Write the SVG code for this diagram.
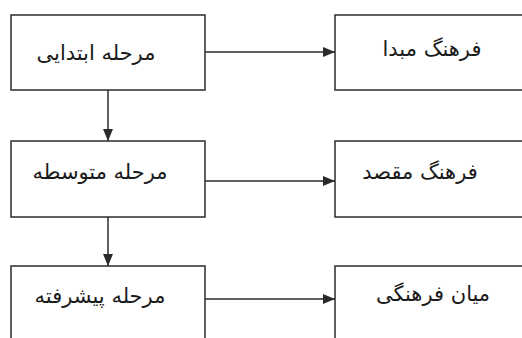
<svg xmlns="http://www.w3.org/2000/svg" width="522" height="338" viewBox="0 0 522 338">
<style>
.box{fill:#fff;stroke:#2b2b2b;stroke-width:1.5}
.lbl{font-family:"DejaVu Sans","Noto Sans",sans-serif;font-size:21px;fill:#1a1a1a;text-anchor:middle;direction:rtl}
.conn{stroke:#2b2b2b;stroke-width:1.5;fill:none}
</style>
<defs>
<marker id="ah" viewBox="0 0 12 10" refX="12" refY="5" markerWidth="12" markerHeight="10" markerUnits="userSpaceOnUse" orient="auto">
<path d="M0,0 L12,5 L0,10 Z" fill="#2b2b2b"/>
</marker>
</defs>
<rect width="522" height="338" fill="#fff"/>
<g id="n1"><rect class="box" x="11" y="15" width="194" height="75"/><text class="lbl" x="96" y="60">مرحله ابتدایی</text></g>
<g id="n2"><rect class="box" x="11" y="141" width="194" height="76"/><text class="lbl" x="100" y="179">مرحله متوسطه</text></g>
<g id="n3"><rect class="box" x="11" y="266" width="194" height="80"/><text class="lbl" x="100" y="303">مرحله پیشرفته</text></g>
<g id="n4"><rect class="box" x="335" y="15" width="200" height="75"/><text class="lbl" x="432" y="56">فرهنگ مبدا</text></g>
<g id="n5"><rect class="box" x="335" y="141" width="200" height="76"/><text class="lbl" x="420" y="179">فرهنگ مقصد</text></g>
<g id="n6"><rect class="box" x="335" y="266" width="200" height="80"/><text class="lbl" x="433" y="301">میان فرهنگی</text></g>
<g id="connectors">
<line class="conn" x1="205" y1="52" x2="335" y2="52" marker-end="url(#ah)"/>
<line class="conn" x1="205" y1="181" x2="335" y2="181" marker-end="url(#ah)"/>
<line class="conn" x1="205" y1="299" x2="335" y2="299" marker-end="url(#ah)"/>
<line class="conn" x1="108" y1="90" x2="108" y2="141" marker-end="url(#ah)"/>
<line class="conn" x1="108" y1="217" x2="108" y2="266" marker-end="url(#ah)"/>
</g>
</svg>
